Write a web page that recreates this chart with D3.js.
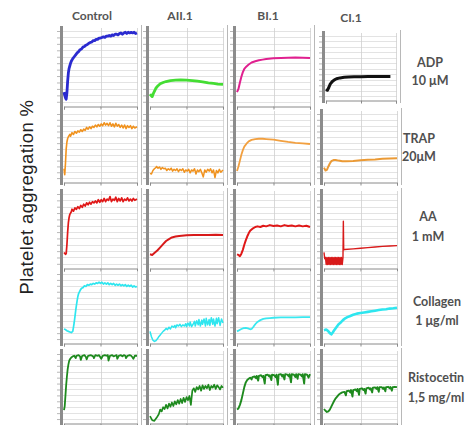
<!DOCTYPE html>
<html>
<head>
<meta charset="utf-8">
<script src="https://cdn.jsdelivr.net/npm/d3@7"></script>
<style>
  body { margin: 0; background: #fff; }
  svg { display: block; }
</style>
</head>
<body>
<svg id="chart" width="469" height="425"></svg>
<script>
// Column headers (patients) and row headers (agonists)
const columns = ["Control", "AII.1", "BI.1", "CI.1"];
const agonists = ["ADP", "TRAP", "AA", "Collagen", "Ristocetin"];
const doses = ["10 μM", "20μM", "1 mM", "1 μg/ml", "1,5 mg/ml"];

// Trace colours, one row per agonist
const colorsADP = ["#2b2bd0", "#44dd33", "#e0208f", "#111111"];
const colorsTRAP = ["#f0921e", "#f0921e", "#f2a040", "#eb9a35"];
const colorsAA = ["#e01818", "#d81a1a", "#e01818", "#d81a1a"];
const colorsCollagen = ["#2ee6ef", "#2ee6ef", "#3ae8f0", "#2ee6ef"];
const colorsRisto = ["#1e8a1e", "#1e8a1e", "#1e8a1e", "#1e8a1e"];

// Aggregation scale ticks (%)
const aggTicks = [-10, 0, 10, 20, 30, 40, 50, 60, 70, 80, 90, 100];
const timeTicks = [0, 50, 100];

// Aggregation traces: [time (% of run), aggregation %]
const adpControl = [[0,5],[1,0],[2,-4],[3,-6],[4,4],[5,22],[6,35],[7,42],[8,46],[9,50],[10,53],[12,57],[14,60],[16,63],[18,66],[20,68],[22,71],[24,72],[26,75],[28,76],[30,78],[32,79],[34,81],[36,82],[38,83],[40,85],[42,85],[44,87],[46,87],[48,89],[50,89],[52,90],[54,91],[56,90],[58,92],[60,92],[62,93],[64,92],[66,94],[68,93],[70,95],[72,95],[74,94],[76,96],[78,97],[80,95],[82,97],[84,98],[86,96],[88,98],[90,97],[92,98],[94,97],[96,98],[98,96],[100,97]];
const adpAII = [[0,2],[2,-1],[3,-2],[5,4],[8,11],[11,15],[14,18],[18,20],[22,21.5],[28,23],[35,23.5],[42,24],[50,23.5],[58,23],[65,22],[72,21],[80,19.5],[87,18.5],[93,17.5],[100,17]];
const adpBI = [[0,5],[2,10],[4,20],[6,29],[8,36],[10,41],[13,45],[16,48],[20,51],[25,53],[30,54.5],[35,55.5],[40,56.5],[50,57.5],[60,58],[70,58.5],[80,59],[90,58.5],[100,58]];
const adpCI = [[0,3],[2,1],[4,6],[6,12],[9,17],[12,20],[15,22],[20,23.5],[26,24.5],[32,25],[40,25.5],[50,25.5],[60,26],[70,26],[80,26],[92,26]];

const trapControl = [[0,6],[1,-4],[2,15],[3,40],[4,52],[5,58],[6,61],[8,65],[9,62],[11,68],[13,65],[15,70],[17,67],[19,71],[21,69],[23,73],[25,70],[27,74],[29,72],[31,77],[33,74],[35,78],[37,75],[39,79],[41,77],[43,81],[45,78],[47,82],[49,79],[51,83],[53,80],[55,85],[57,81],[59,84],[61,80],[63,85],[65,79],[67,83],[69,78],[71,84],[73,79],[75,82],[77,77],[79,81],[81,76],[83,81],[85,75],[87,80],[89,77],[91,80],[93,75],[95,79],[97,76],[100,78]];
const trapAII = [[0,-2],[2,-3],[4,3],[6,6],[8,8],[9,10],[11,7],[13,9],[15,5],[17,8],[19,6],[21,7],[23,3],[25,6],[27,4],[29,7],[31,2],[33,5],[35,3],[37,6],[39,1],[41,5],[43,3],[45,6],[47,0],[49,4],[51,2],[53,5],[55,-1],[57,4],[59,2],[61,6],[63,-3],[65,4],[67,1],[69,5],[71,-1],[73,-8],[75,4],[77,0],[79,5],[81,2],[83,6],[85,-1],[87,4],[89,-9],[91,3],[93,-1],[95,5],[97,0],[100,4]];
const trapBI = [[0,2],[2,10],[4,20],[6,30],[8,38],[10,44],[13,49],[16,53],[20,55.5],[25,57],[30,57.5],[35,57.5],[40,57],[50,56],[60,54],[70,52],[80,50.5],[90,49.5],[100,48.5]];
const trapCI = [[0,8],[2,3],[4,4],[6,10],[8,15],[10,19],[13,21],[16,21],[20,20],[25,19],[30,19],[40,19.5],[50,20.5],[60,21.5],[70,22],[80,23],[90,23.5],[100,24]];

const aaControl = [[0,8],[2,5],[3,6],[4,20],[5,40],[6,55],[7,63],[8,68],[10,72],[11,76],[13,73],[15,78],[17,76],[19,80],[21,77],[23,82],[25,79],[27,84],[29,81],[31,86],[33,83],[35,87],[37,84],[39,88],[41,86],[43,89],[45,86],[47,91],[49,87],[51,91],[53,88],[55,93],[57,88],[59,92],[61,90],[63,96],[65,88],[67,92],[69,90],[71,95],[73,88],[75,93],[77,89],[79,94],[81,88],[83,92],[85,90],[87,94],[89,89],[91,92],[93,89],[95,93],[97,90],[100,92]];
const aaAII = [[0,5],[3,4],[6,7],[10,11],[14,16],[18,21],[22,26],[26,29],[30,31.5],[35,33],[40,34],[50,35],[60,35.5],[70,35.5],[80,35.5],[90,36],[100,35.5]];
const aaBI = [[0,5],[2,4],[4,2],[6,6],[8,12],[10,20],[12,27],[14,33],[16,38],[18,42],[20,44],[22,46],[25,48],[28,49],[32,48],[36,50],[40,49],[45,51],[50,49.5],[55,50.5],[60,49],[65,51],[70,49.5],[75,50.5],[80,49],[85,50.5],[90,49],[95,50],[100,48]];
const aaCI = [[0,8],[1,-2],[2,0],[3,-11],[4,0],[5,-11],[6,0],[7,-11],[8,0],[9,-11],[10,0],[11,-11],[12,0],[13,-11],[14,0],[15,-11],[16,0],[17,-11],[18,0],[19,-11],[20,0],[21,-11],[22,0],[23,-11],[24,0],[25,-11],[26,0],[26.5,57],[27,12],[28,12.5],[40,13.5],[50,14.5],[60,15.5],[70,16.5],[80,17.5],[90,18],[100,18.7]];

const colControl = [[0,7],[2,6],[4,4],[6,3],[8,2],[10,1],[12,3],[13,10],[14,18],[15,28],[16,38],[17,47],[18,55],[19,62],[20,67],[22,72],[24,76],[26,77],[28,80],[30,79],[32,82],[34,81],[36,83],[38,82],[40,84],[42,83],[44,85],[46,84],[48,86],[50,84],[52,86],[54,83],[56,85],[58,83],[60,85],[62,82],[64,84],[66,82],[68,84],[70,81],[72,83],[74,81],[76,83],[78,80],[80,82],[82,80],[84,82],[86,79],[88,81],[90,79],[92,81],[94,78],[96,80],[98,78],[100,79]];
const colAII = [[0,3],[2,-6],[4,-12],[6,-14],[8,-13],[10,-10],[12,-6],[14,-3],[16,0],[18,3],[20,5],[22,8],[24,6],[26,10],[28,7],[30,12],[32,10],[34,13],[35,9],[37,14],[39,12],[41,15],[43,11],[45,14],[47,12],[49,16],[50,11],[52,17],[54,12],[55,19],[57,11],[59,15],[61,20],[62,12],[64,21],[66,14],[67,23],[69,12],[71,22],[72,15],[74,24],[76,12],[77,25],[79,14],[81,23],[82,13],[84,26],[86,15],[87,24],[89,12],[91,25],[92,16],[94,26],[96,13],[98,24],[100,17]];
const colBI = [[0,3],[3,5],[6,7],[9,8.5],[12,9],[15,8],[18,6.5],[20,7],[22,10],[25,15],[28,19],[32,22],[36,24],[40,25],[45,25.5],[50,26],[60,26.5],[70,26.5],[80,26.5],[90,27],[100,27]];
const colCI = [[0,5],[3,6],[6,3],[8,0],[10,-2],[12,1],[14,5],[17,10],[20,15],[23,18],[26,22],[29,25],[32,27],[36,29],[40,31],[45,33],[50,34],[55,35],[60,36],[65,37],[70,38],[75,39],[80,40],[85,40.5],[90,41.5],[95,42],[100,43]];

const ristoControl = [[0,5],[1,12],[2,30],[3,48],[4,62],[5,74],[6,82],[7,88],[8,91],[10,94],[12,96],[14,97],[16,93],[17,97],[20,98],[22,96],[23,90],[25,97],[28,98],[30,95],[31,91],[33,97],[37,98],[40,96],[41,93],[43,98],[46,97],[48,98],[50,94],[51,92],[53,97],[56,98],[58,97],[60,98],[61,89],[63,97],[66,98],[68,96],[70,97],[72,98],[73,92],[75,97],[78,98],[80,96],[82,98],[84,97],[85,93],[87,97],[90,98],[92,97],[94,94],[95,92],[97,97],[100,97]];
const ristoAII = [[0,-5],[3,-12],[6,-13],[9,-8],[12,-2],[14,6],[16,3],[18,10],[20,7],[22,14],[24,8],[26,16],[28,11],[30,18],[32,12],[34,20],[36,15],[38,22],[40,16],[42,24],[44,17],[46,26],[48,19],[50,27],[52,22],[54,29],[56,14],[58,38],[60,42],[62,36],[64,44],[66,40],[68,46],[70,38],[72,47],[74,41],[76,46],[78,42],[80,48],[82,39],[84,46],[86,43],[88,48],[90,41],[92,47],[94,44],[96,40],[98,46],[100,43]];
const ristoBI = [[0,6],[2,8],[4,14],[6,22],[8,33],[10,44],[12,52],[14,56],[16,58],[18,60],[20,57],[21,61],[24,62],[26,59],[27,63],[29,55],[30,63],[33,64],[35,61],[36,63],[38,50],[39,64],[42,65],[44,62],[45,64],[47,56],[48,65],[51,64],[53,61],[54,65],[56,48],[57,65],[60,66],[62,62],[63,65],[65,57],[66,66],[69,65],[71,62],[72,66],[74,52],[75,66],[78,65],[80,61],[81,66],[83,58],[84,66],[87,65],[89,62],[90,66],[92,50],[93,66],[96,65],[98,60],[100,66]];
const ristoCI = [[0,7],[2,4],[4,2],[6,3],[8,6],[10,11],[12,16],[14,21],[16,25],[18,28],[20,31],[22,33],[25,35],[28,36],[30,30],[31,37],[34,38],[36,35],[37,39],[39,28],[40,39],[43,40],[45,37],[46,41],[48,31],[49,41],[52,42],[54,39],[55,41],[57,33],[58,42],[61,43],[63,40],[64,42],[66,35],[67,43],[70,43.5],[72,41],[73,44],[75,36],[76,44],[79,44],[81,41],[82,43.5],[84,37],[85,44],[88,44.5],[90,42],[91,44],[93,38],[94,44],[97,44.5],[100,44]];

const traceGrid = [
  [adpControl, adpAII, adpBI, adpCI],
  [trapControl, trapAII, trapBI, trapCI],
  [aaControl, aaAII, aaBI, aaCI],
  [colControl, colAII, colBI, colCI],
  [ristoControl, ristoAII, ristoBI, ristoCI]
];
const colorGrid = [colorsADP, colorsTRAP, colorsAA, colorsCollagen, colorsRisto];

// ---- layout ----
const svg = d3.select("#chart");
const colX = [62, 148, 235, 322];
const panelW = 76;
const rowTop = [28, 111, 191, 271, 351];
const rowBottom = [106, 182, 268, 343, 423];
const strokeW = [
  [2.8, 2.8, 2.0, 3.0],
  [1.6, 1.5, 1.8, 2.0],
  [1.7, 2.0, 2.0, 1.4],
  [1.7, 1.5, 1.8, 2.6],
  [1.8, 1.7, 1.9, 1.9]
];

function panelBox(r, c) {
  if (r === 0 && c === 3) return { x: 324, top: 33, bottom: 100, w: 73 };
  return { x: colX[c], top: rowTop[r], bottom: rowBottom[r], w: panelW };
}

traceGrid.forEach((row, r) => {
  row.forEach((trace, c) => {
    const b = panelBox(r, c);
    const g = svg.append("g");
    const x = d3.scaleLinear().domain([0, 100]).range([b.x + 2, b.x + b.w - 1]);
    const y = d3.scaleLinear().domain([-15, 100]).range([b.bottom - 1, b.top + 3]);

    // horizontal grid
    g.selectAll("line.h").data(aggTicks).join("line")
      .attr("x1", b.x).attr("x2", b.x + b.w)
      .attr("y1", d => Math.round(y(d)) + 0.5).attr("y2", d => Math.round(y(d)) + 0.5)
      .attr("stroke", "#dcdcdc").attr("stroke-width", 0.8);
    // vertical grid
    g.selectAll("line.v").data(timeTicks.slice(1)).join("line")
      .attr("x1", d => Math.round(x(d)) + 0.5).attr("x2", d => Math.round(x(d)) + 0.5)
      .attr("y1", b.top).attr("y2", b.bottom)
      .attr("stroke", "#cfcfcf").attr("stroke-width", 0.8);

    // left tick marks
    g.append("g")
      .attr("transform", `translate(${b.x - 2},0)`)
      .call(d3.axisLeft(y).tickValues(aggTicks).tickSize(3).tickFormat(""))
      .call(a => a.select(".domain").remove())
      .call(a => a.selectAll("line").attr("stroke", "#9a9a9a").attr("stroke-width", 0.7));

    // bottom axis
    g.append("g")
      .attr("transform", `translate(0,${b.bottom + 0.5})`)
      .call(d3.axisBottom(x).tickValues(timeTicks).tickSize(3).tickFormat(""))
      .call(a => a.select(".domain").attr("stroke", "#8a8a8a").attr("stroke-width", 1))
      .call(a => a.selectAll("line").attr("stroke", "#8a8a8a"));

    // right border
    g.append("line")
      .attr("x1", b.x + b.w + 3.5).attr("x2", b.x + b.w + 3.5)
      .attr("y1", b.top - 3).attr("y2", b.bottom + 3)
      .attr("stroke", "#b8b8b8").attr("stroke-width", 1);

    // thick left axis bar
    g.append("rect")
      .attr("x", b.x - 2).attr("y", b.top - 2)
      .attr("width", 3).attr("height", b.bottom - b.top + 5)
      .attr("fill", "#8c8c8c");

    // aggregation trace
    const line = d3.line().x(d => x(d[0])).y(d => y(d[1])).curve(d3.curveLinear);
    g.append("path")
      .datum(trace)
      .attr("d", line)
      .attr("fill", "none")
      .attr("stroke", colorGrid[r][c])
      .attr("stroke-width", strokeW[r][c])
      .attr("stroke-linejoin", "round");
  });
});

// column headers
const titleX = [92, 180, 268, 351];
const titleY = [20, 20, 20, 22];
svg.selectAll("text.col").data(columns).join("text")
  .attr("x", (d, i) => titleX[i]).attr("y", (d, i) => titleY[i])
  .attr("text-anchor", "middle")
  .attr("font-family", "Lato, 'Open Sans', sans-serif")
  .attr("font-weight", 700).attr("font-size", 12)
  .attr("fill", "#555")
  .text(d => d);

// agonist labels on the right
const labelCX = [430, 419, 428, 437, 436];
const labelY1 = [67, 143, 221, 306, 382];
const labelY2 = [85, 161, 241, 325, 402];
agonists.forEach((a, i) => {
  svg.append("text")
    .attr("x", labelCX[i]).attr("y", labelY1[i])
    .attr("text-anchor", "middle")
    .attr("font-family", "Lato, 'Open Sans', sans-serif")
    .attr("font-weight", 700).attr("font-size", 12.5)
    .attr("fill", "#505050")
    .text(a);
  svg.append("text")
    .attr("x", labelCX[i]).attr("y", labelY2[i])
    .attr("text-anchor", "middle")
    .attr("font-family", "Lato, 'Open Sans', sans-serif")
    .attr("font-weight", 700).attr("font-size", 12.5)
    .attr("fill", "#505050")
    .text(doses[i]);
});

// y-axis title
svg.append("text")
  .attr("transform", "translate(33,197) rotate(-90)")
  .attr("text-anchor", "middle")
  .attr("font-family", "'Liberation Sans', Arial, sans-serif")
  .attr("font-size", 18.5)
  .attr("letter-spacing", 0.4)
  .attr("fill", "#222")
  .text("Platelet aggregation %");
</script>
</body>
</html>
